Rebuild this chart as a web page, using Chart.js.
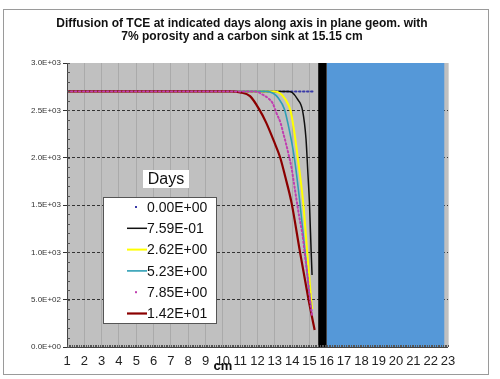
<!DOCTYPE html>
<html>
<head>
<meta charset="utf-8">
<script src="https://cdn.jsdelivr.net/npm/chart.js@4"></script>
<style>
  html, body { margin: 0; padding: 0; background: #fff; }
  #wrap { position: relative; width: 500px; height: 379px; }
</style>
</head>
<body>
<div id="wrap"><canvas id="chart" width="500" height="379"></canvas></div>
<script>
// tick values
const xTickValues = [1, 2, 3, 4, 5, 6, 7, 8, 9, 10, 11, 12, 13, 14, 15, 16, 17, 18, 19, 20, 21, 22, 23];
const yTickValues = [0, 500, 1000, 1500, 2000, 2500, 3000];

// legend labels (days)
const seriesLabels = ["0.00E+00", "7.59E-01", "2.62E+00", "5.23E+00", "7.85E+00", "1.42E+01"];

// concentration profiles
const day0X = [1, 15.2];
const day0Y = [2700, 2700];
const day076X = [1, 13.8, 14.0, 14.3, 14.6, 14.8, 14.9, 15.0, 15.1, 15.15];
const day076Y = [2700, 2700, 2690, 2620, 2500, 2200, 1870, 1520, 1000, 760];
const day262X = [1, 13.0, 13.3, 13.6, 13.9, 14.1, 14.32, 14.64, 14.87, 15.09, 15.15];
const day262Y = [2700, 2700, 2680, 2620, 2500, 2300, 2007, 1521, 1007, 518, 400];
const day523X = [1, 12.5, 12.9, 13.2, 13.55, 13.85, 14.12, 14.45, 14.74, 14.97, 15.12];
const day523Y = [2700, 2700, 2680, 2630, 2514, 2280, 2007, 1521, 1007, 600, 380];
const day785X = [1, 11.6, 11.95, 12.33, 12.62, 12.88, 13.1, 13.34, 13.49, 13.64, 13.78, 13.97, 14.1, 14.41, 14.6, 14.74, 14.87, 15.05, 15.15];
const day785Y = [2700, 2700, 2697, 2662, 2627, 2574, 2469, 2363, 2257, 2152, 2046, 1888, 1736, 1376, 1183, 972, 778, 480, 330];
const day142X = [1, 10.4, 11.0, 11.57, 12.1, 12.5, 13.0, 13.3, 13.6, 13.97, 14.45, 14.93, 15.3];
const day142Y = [2700, 2700, 2690, 2650, 2510, 2370, 2150, 2007, 1800, 1520, 1007, 518, 180];

// sink (black) and carbon block (blue), x extents in cm, full height
const sinkX = [15.5, 16];
const blockX = [16, 22.8];
const topValue = 3000;

const seriesX = [day0X, day076X, day262X, day523X, day785X, day142X];
const seriesY = [day0Y, day076Y, day262Y, day523Y, day785Y, day142Y];

const styles = [
  { color: "#3a3aa8", width: 2, dash: [1.5, 2.5], dot: true, order: 5 },
  { color: "#111111", width: 1.5, dash: [], dot: false, order: 4 },
  { color: "#ffff00", width: 2, dash: [], dot: false, order: 3 },
  { color: "#2e9fb5", width: 1.6, dash: [], dot: false, order: 2 },
  { color: "#c040b0", width: 2, dash: [1.5, 2.5], dot: true, order: 0 },
  { color: "#8b0000", width: 2.2, dash: [], dot: false, order: 1 }
];

function sci(v) {
  if (v === 0) return "0.0E+00";
  const e = Math.floor(Math.log10(v));
  const m = v / Math.pow(10, e);
  return m.toFixed(1) + "E+" + String(e).padStart(2, "0");
}

const datasets = seriesLabels.map((lab, i) => ({
  label: lab,
  data: seriesX[i].map((x, j) => ({ x: x, y: seriesY[i][j] })),
  borderColor: styles[i].color,
  borderWidth: styles[i].width,
  borderDash: styles[i].dash,
  borderCapStyle: styles[i].dot ? "round" : "butt",
  pointRadius: 0,
  cubicInterpolationMode: "monotone",
  fill: false,
  order: styles[i].order
}));

datasets.push({
  label: "sink",
  data: sinkX.map(x => ({ x: x, y: topValue })),
  borderWidth: 0,
  pointRadius: 0,
  backgroundColor: "#000000",
  fill: "origin",
  order: 6
});
datasets.push({
  label: "block",
  data: blockX.map(x => ({ x: x, y: topValue })),
  borderWidth: 0,
  pointRadius: 0,
  backgroundColor: "#5598d8",
  fill: "origin",
  order: 7
});

const decor = {
  id: "decor",
  beforeDraw(chart) {
    const { ctx, chartArea: a } = chart;
    ctx.save();
    ctx.fillStyle = "#fff";
    ctx.fillRect(0, 0, chart.width, chart.height);
    ctx.strokeStyle = "#9a9a9a";
    ctx.lineWidth = 1;
    ctx.strokeRect(3.5, 9.5, 485, 365);
    ctx.fillStyle = "#c0c0c0";
    ctx.fillRect(a.left, a.top, a.right - a.left, a.bottom - a.top);
    ctx.restore();
  },
  afterDraw(chart) {
    const { ctx, chartArea: a } = chart;
    const xs = chart.scales.x, ys = chart.scales.y;
    ctx.save();

    // axis lines
    ctx.strokeStyle = "#444";
    ctx.lineWidth = 1;
    ctx.beginPath();
    ctx.moveTo(a.left + 0.5, a.top);
    ctx.lineTo(a.left + 0.5, a.bottom + 0.5);
    ctx.lineTo(a.right, a.bottom + 0.5);
    ctx.stroke();

    // minor ticks
    ctx.strokeStyle = "#555";
    ctx.beginPath();
    for (let k = 10; k <= 230; k++) {
      const px = Math.round(xs.getPixelForValue(k / 10)) + 0.5;
      ctx.moveTo(px, a.bottom);
      ctx.lineTo(px, a.bottom - 2);
    }
    for (let k = 0; k <= 30; k++) {
      const py = Math.round(ys.getPixelForValue(k * 100)) + 0.5;
      ctx.moveTo(a.left, py);
      ctx.lineTo(a.left + 3, py);
    }
    ctx.stroke();

    // title
    ctx.fillStyle = "#111";
    ctx.font = "bold 12px 'Liberation Sans', Arial, sans-serif";
    ctx.textAlign = "center";
    ctx.textBaseline = "middle";
    ctx.fillText("Diffusion of TCE at indicated days along axis in plane geom. with", 242, 24);
    ctx.fillText("7% porosity and a carbon sink at 15.15 cm", 242, 37);

    // axis title
    ctx.font = "bold 13px 'Liberation Sans', Arial, sans-serif";
    ctx.fillText("cm", xs.getPixelForValue(10), 366);

    // legend title
    ctx.fillStyle = "#fff";
    ctx.fillRect(143, 170, 46, 18);
    ctx.fillStyle = "#111";
    ctx.font = "16px 'Liberation Sans', Arial, sans-serif";
    ctx.fillText("Days", 166, 180);

    // legend box
    ctx.fillStyle = "#fff";
    ctx.fillRect(103, 197, 114, 127);
    ctx.strokeStyle = "#555";
    ctx.lineWidth = 1;
    ctx.strokeRect(103.5, 197.5, 113, 126);
    ctx.font = "14px 'Liberation Sans', Arial, sans-serif";
    ctx.textAlign = "left";
    seriesLabels.forEach((lab, i) => {
      const y = 207 + i * 21.3;
      const s = styles[i];
      if (s.dot) {
        ctx.fillStyle = s.color;
        ctx.fillRect(135, y - 1, 2, 2);
      } else {
        ctx.strokeStyle = s.color;
        ctx.lineWidth = s.width;
        ctx.beginPath();
        ctx.moveTo(127, y);
        ctx.lineTo(147, y);
        ctx.stroke();
      }
      ctx.fillStyle = "#111";
      ctx.fillText(lab, 147, y + 1);
    });
    ctx.restore();
  }
};

new Chart(document.getElementById("chart").getContext("2d"), {
  type: "line",
  data: { datasets: datasets },
  options: {
    responsive: false,
    animation: false,
    layout: { padding: { top: 63, right: 52, bottom: 0, left: 0 } },
    plugins: { legend: { display: false }, title: { display: false }, tooltip: { enabled: false } },
    scales: {
      x: {
        type: "linear",
        min: 1,
        max: 23,
        afterBuildTicks: s => { s.ticks = xTickValues.map(v => ({ value: v })); },
        afterFit: s => { s.height = 32; },
        grid: { color: "rgba(120,120,120,0.3)", lineWidth: 1, drawTicks: false },
        border: { display: false },
        ticks: { color: "#222", font: { size: 13, family: "'Liberation Sans', Arial, sans-serif" }, padding: 7, maxRotation: 0, autoSkip: false }
      },
      y: {
        min: 0,
        max: 3000,
        afterBuildTicks: s => { s.ticks = yTickValues.map(v => ({ value: v })); },
        afterFit: s => { s.width = 67; },
        grid: {
          color: c => (c.tick && c.tick.value === 3000) ? "rgba(0,0,0,0)" : "#333",
          lineWidth: 1,
          tickLength: 4,
          tickColor: "#333"
        },
        border: { display: false, dash: [3, 2] },
        ticks: { color: "#333", font: { size: 8, family: "'Liberation Sans', Arial, sans-serif" }, padding: 2, callback: v => sci(v) }
      }
    }
  },
  plugins: [decor]
});
</script>
</body>
</html>
